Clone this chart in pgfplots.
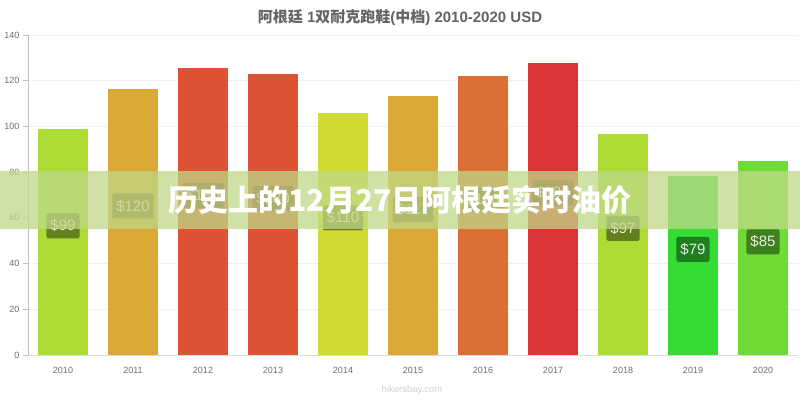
\documentclass[border=0pt]{standalone}
\usepackage{pgfplots}
\pgfplotsset{compat=1.18}
\usepackage{fontspec}
\setmainfont{Liberation Sans}
\newfontfamily\cjk{Noto Sans CJK SC}
\definecolor{cA}{RGB}{173,220,52}
\definecolor{cB}{RGB}{218,168,52}
\definecolor{cC}{RGB}{220,82,52}
\definecolor{cD}{RGB}{208,220,52}
\definecolor{cE}{RGB}{220,112,52}
\definecolor{cF}{RGB}{220,52,52}
\definecolor{cG}{RGB}{52,220,52}
\definecolor{cH}{RGB}{110,220,52}
\definecolor{tickgray}{RGB}{110,110,110}
\definecolor{titlegray}{RGB}{100,100,100}
\definecolor{band}{RGB}{192,216,135}
\begin{document}
\begin{tikzpicture}
\path[use as bounding box, fill=white] (0pt,0pt) rectangle (800pt,400pt);
\begin{axis}[
  at={(28pt,45pt)}, anchor=south west, scale only axis,
  width=770pt, height=320pt,
  xmin=-0.5, xmax=10.5, ymin=0, ymax=140,
  xtick={0,...,10},
  xticklabels={2010,2011,2012,2013,2014,2015,2016,2017,2018,2019,2020},
  ytick={0,20,...,140},
  axis lines*=left,
  x axis line style={draw=black!14, line width=0.8pt},
  y axis line style={draw=black!25, line width=0.8pt},
  ymajorgrids, grid style={draw=black!5, line width=0.6pt},
  tick align=outside,
  x tick style={draw=none},
  y tick style={draw=black!25, line width=0.8pt},
  major tick length=5pt,
  ticklabel style={font=\fontsize{9}{10}\selectfont, text=tickgray},
  xticklabel style={yshift=-4pt},
  /pgf/number format/assume math mode=true,
  clip=false,
]
\addplot[ybar, bar width=50pt, bar shift=0pt, fill=cA, draw=none] coordinates {(0,98.9)};
\addplot[ybar, bar width=50pt, bar shift=0pt, fill=cB, draw=none] coordinates {(1,116.4)};
\addplot[ybar, bar width=50pt, bar shift=0pt, fill=cC, draw=none] coordinates {(2,125.6)};
\addplot[ybar, bar width=50pt, bar shift=0pt, fill=cC, draw=none] coordinates {(3,122.9)};
\addplot[ybar, bar width=50pt, bar shift=0pt, fill=cD, draw=none] coordinates {(4,105.9)};
\addplot[ybar, bar width=50pt, bar shift=0pt, fill=cB, draw=none] coordinates {(5,113.3)};
\addplot[ybar, bar width=50pt, bar shift=0pt, fill=cE, draw=none] coordinates {(6,122.0)};
\addplot[ybar, bar width=50pt, bar shift=0pt, fill=cF, draw=none] coordinates {(7,127.8)};
\addplot[ybar, bar width=50pt, bar shift=0pt, fill=cA, draw=none] coordinates {(8,96.7)};
\addplot[ybar, bar width=50pt, bar shift=0pt, fill=cG, draw=none] coordinates {(9,78.3)};
\addplot[ybar, bar width=50pt, bar shift=0pt, fill=cH, draw=none] coordinates {(10,84.9)};
\addplot[only marks, mark=none,
  nodes near coords, point meta=explicit symbolic,
  nodes near coords style={anchor=center, yshift=0pt},
  every node near coord/.style={anchor=center, fill=black, fill opacity=0.42, text opacity=0.88,
    text=white, rounded corners=2pt, inner xsep=4pt, inner ysep=0pt, minimum height=25pt,
    font=\fontsize{15}{15}\selectfont},
  nodes near coords align={center},
] table[meta=lab] {
x y lab
0 56.5 \$99
1 65.2 \$120
2 69.8 \$130
3 68.5 \$130
4 60.0 \$110
5 63.7 \$117
6 68.0 \$126
7 70.9 \$132
8 55.4 \$97
9 46.2 \$79
10 49.5 \$85
};
\end{axis}
\node[font=\bfseries\fontsize{15}{15}\selectfont, text=titlegray] at (400pt,382pt) {{\cjk\bfseries 阿根廷} 1{\cjk\bfseries 双耐克跑鞋}({\cjk\bfseries 中档}) 2010-2020 USD};
\node[font=\fontsize{9.5}{10}\selectfont, text=black!18] at (412pt,10pt) {hikersbay.com};
\fill[band, opacity=0.75] (0pt,171pt) rectangle (800pt,229pt);
\node[font=\cjk\bfseries\fontsize{30}{30}\selectfont, text=white] at (400pt,200pt) {历史上的12月27日阿根廷实时油价};
\end{tikzpicture}
\end{document}
